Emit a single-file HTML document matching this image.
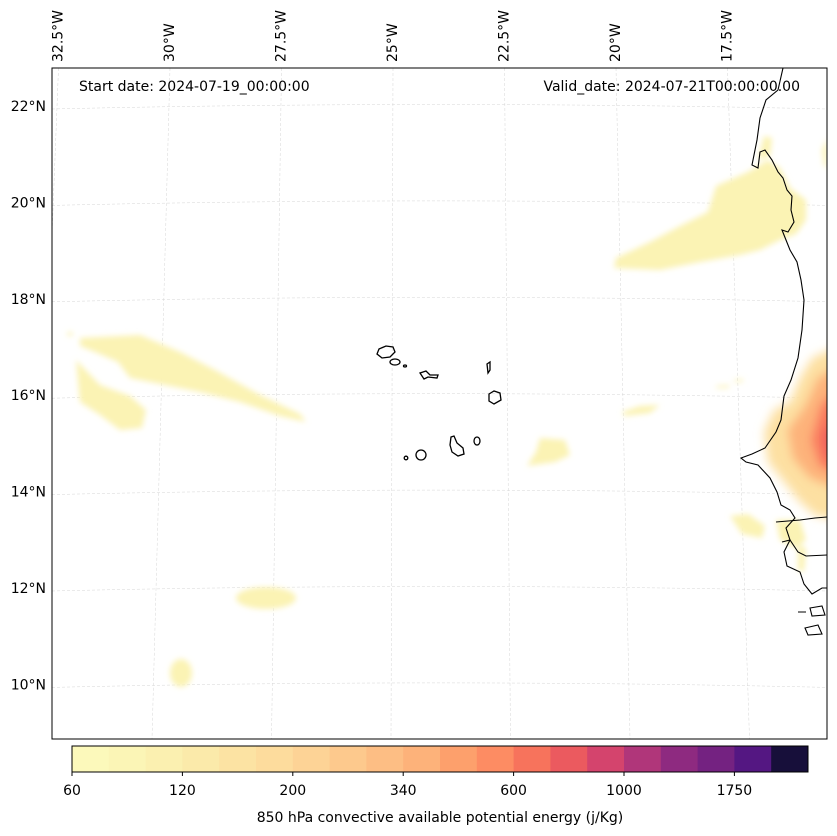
<!DOCTYPE html>
<html><head><meta charset="utf-8"><style>
html,body{margin:0;padding:0;background:#fff;}
svg{display:block;font-family:"DejaVu Sans","Liberation Sans",sans-serif;}
</style></head><body>
<svg id="fig" width="837" height="836" viewBox="0 0 837 836" xmlns="http://www.w3.org/2000/svg">
<defs>
<filter id="blur" x="-20%" y="-20%" width="140%" height="140%"><feGaussianBlur stdDeviation="3"/></filter>
<filter id="blur2" x="-30%" y="-30%" width="160%" height="160%"><feGaussianBlur stdDeviation="5"/></filter>
<clipPath id="mapclip"><rect x="52" y="68" width="775" height="671"/></clipPath>
</defs>
<g id="map" clip-path="url(#mapclip)">
  <g id="grid"></g>
  <g>
    <g filter="url(#blur)" fill="#fbf3b4">
      <path d="M614,268 L616,258 L650,242 L680,226 L708,212 L716,186 L748,172 L768,160 L780,168 L790,188 L806,200 L806,220 L796,234 L780,240 L760,250 L740,255 L700,262 L660,270 Z"/>
      <path d="M764,136 L772,138 L770,156 L758,160 Z"/>
      <path d="M827,138 L822,150 L824,166 L827,168 Z"/>
      <path d="M80,338 L140,335 L180,352 L215,370 L260,395 L300,414 L306,422 L280,416 L240,402 L200,392 L160,384 L130,378 L118,362 L95,352 L80,346 Z"/>
      <path d="M76,360 L100,385 L130,396 L146,410 L142,428 L120,430 L100,415 L80,402 Z"/>
      <path d="M540,438 L565,440 L570,455 L555,462 L527,466 L536,452 Z"/>
      <path d="M622,412 L640,406 L660,405 L650,413 L625,416 Z"/>
      <path d="M716,386 L730,385 L728,388 L716,388 Z M734,380 L744,379 L742,382 L734,382 Z"/>
      <path d="M730,516 L748,514 L765,526 L762,538 L742,534 Z"/>
      <path d="M776,520 L800,520 L806,540 L796,548 L780,540 Z M798,545 L806,548 L804,572 L798,570 Z"/>
      <ellipse cx="266" cy="598" rx="30" ry="11"/>
      <ellipse cx="181" cy="673" rx="11" ry="14"/>
      <ellipse cx="70" cy="334" rx="3" ry="2"/>
    </g>
    <g>
      <path filter="url(#blur2)" fill="#fde0a2" d="M840,345 L812,358 L800,378 L790,402 L774,410 L764,432 L768,462 L784,482 L800,502 L816,516 L840,520 Z"/>
      <path filter="url(#blur2)" fill="#fdb27a" d="M840,365 L818,378 L806,405 L788,430 L793,458 L810,478 L840,490 Z"/>
      <path filter="url(#blur2)" fill="#f9785d" d="M840,388 L822,405 L812,440 L820,465 L840,475 Z"/>
      <path filter="url(#blur2)" fill="#e85a5f" d="M840,415 L824,435 L828,455 L840,460 Z"/>
    </g>
  </g>
  <g fill="none" stroke="#000" stroke-width="1.1">
    <polyline points="783,68 778,90 766,100 760,118 757,140 752,165 758,168 760,152 765,150 772,160 778,172 783,178 787,190 792,196 791,210 794,222 788,232 782,230 786,240 790,250 797,262 801,280 804,300 802,330 798,358 791,380 784,396 781,420 776,432 765,448 752,454 741,458 746,462 758,465 770,478 777,492 781,505 790,510 795,518 786,528 790,540 784,552 787,566 800,572 804,584 812,594 822,588 827,588"/>
    <polyline points="776,522 800,520 815,518 827,517"/>
    <polyline points="782,542 790,540 798,552 806,556 827,555"/>
    <path d="M810,608 L822,606 L825,615 L812,616 Z M805,628 L818,625 L822,634 L808,635 Z M798,612 L806,612"/>
  </g>
  <g fill="none" stroke="#000" stroke-width="1.3">
    <path d="M379,349 L386,346 L393,347 L395,352 L390,357 L382,358 L377,354 Z"/>
    <ellipse cx="395" cy="362" rx="5" ry="3"/>
    <ellipse cx="405" cy="366" rx="1.5" ry="1"/>
    <path d="M420,373 L426,371 L430,375 L438,375 L437,378 L428,377 L424,379 Z"/>
    <path d="M487,364 L490,362 L490,370 L488,373 Z"/>
    <path d="M489,394 L494,391 L500,393 L501,400 L494,404 L489,401 Z"/>
    <path d="M451,437 L454,436 L457,443 L463,448 L464,454 L458,456 L452,452 L450,445 Z"/>
    <ellipse cx="477" cy="441" rx="3" ry="4"/>
    <ellipse cx="421" cy="455" rx="5" ry="5"/>
    <ellipse cx="406" cy="458" rx="1.8" ry="1.8"/>
  </g>
</g>
<rect x="52" y="68" width="775" height="671" fill="none" stroke="#000" stroke-width="1"/>
<g id="latlabels" font-size="14" fill="#000" text-anchor="end"></g>
<g id="lonlabels" font-size="14" fill="#000"></g>
<text x="79" y="91" font-size="14">Start date: 2024-07-19_00:00:00</text>
<text x="800" y="91" font-size="14" text-anchor="end">Valid_date: 2024-07-21T00:00:00.00</text>
<g id="colorbar"></g>
<text x="440" y="822" font-size="14" text-anchor="middle">850 hPa convective available potential energy (j/Kg)</text>
</svg>
<script>
const latValues = [22, 20, 18, 16, 14, 12, 10];
const lonValues = [32.5, 30, 27.5, 25, 22.5, 20, 17.5];
const cbColors = ["#fcf9bb","#fbf5b6","#fbf0b0","#fbeaaa","#fce3a3","#fddc9d","#fdd396","#fdc98d","#fdbe84","#fdb27a","#fda06c","#fd8c63","#f7735c","#eb5a5f","#d4446d","#b0367a","#8e2a80","#742281","#541782","#170f3a"];
const cbTickLabels = ["60","120","200","340","600","1000","1750"];
const cbTickIndex = [0, 3, 6, 9, 12, 15, 18];

const NS='http://www.w3.org/2000/svg';
function mk(tag, attrs, parent){const e=document.createElementNS(NS,tag);for(const k in attrs)e.setAttribute(k,attrs[k]);parent.appendChild(e);return e;}
function latY(lat){return 106 + (22-lat)*48.2;}
function lonTopX(lon){return 170 + (30-lon)*44.6;}
function lonBotX(lon){return 152 + (30-lon)*47.8;}
const grid=document.getElementById('grid');
latValues.forEach(lat=>{
  const y=latY(lat);
  const l=mk('path',{d:`M52,${y+3} Q440,${y-6} 827,${y+3}`,fill:'none',stroke:'#d6d6d6','stroke-width':0.5,'stroke-dasharray':'3,2'},grid);
  
  
  const t=mk('text',{x:46,y:y+5},document.getElementById('latlabels'));
  t.textContent=lat+'°N';
  
  
});
lonValues.forEach(lon=>{
  const xt=lonTopX(lon), xb=lonBotX(lon);
  const l=mk('line',{x1:xt,y1:68,x2:xb,y2:739,stroke:'#d6d6d6','stroke-width':0.5,'stroke-dasharray':'3,2'},grid);
  
  
  const t=mk('text',{x:0,y:0,transform:`translate(${xt+4},62) rotate(-90)`},document.getElementById('lonlabels'));
  t.textContent=lon+'°W';
  
  
});
const cb=document.getElementById('colorbar');
const cbX=72, cbW=736, cbY=746, cbH=26, n=cbColors.length, bw=cbW/n;
cbColors.forEach((c,i)=>{
  const r=mk('rect',{x:cbX+i*bw,y:cbY,width:bw+0.5,height:cbH,fill:c},cb);
  
  
});
mk('rect',{x:cbX,y:cbY,width:cbW,height:cbH,fill:'none',stroke:'#000','stroke-width':1},cb);
cbTickLabels.forEach((lab,i)=>{
  const x=cbX+cbTickIndex[i]*bw;
  mk('line',{x1:x,y1:cbY+cbH,x2:x,y2:cbY+cbH+4,stroke:'#000'},cb);
  const t=mk('text',{x:x,y:795,'font-size':14,'text-anchor':'middle'},cb);
  t.textContent=lab;
  
  
});
</script>
</body></html>
